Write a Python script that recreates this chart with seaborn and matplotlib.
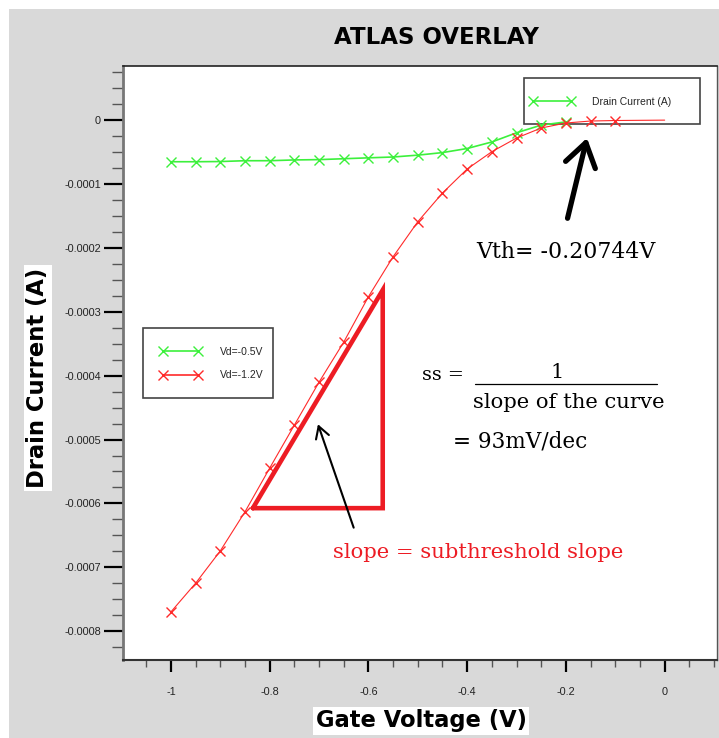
import numpy as np
import pandas as pd
import matplotlib
matplotlib.use("Agg")
import matplotlib.pyplot as plt
import seaborn as sns
from matplotlib.lines import Line2D
from matplotlib.patches import Rectangle
from matplotlib.ticker import MultipleLocator, FuncFormatter

# ---------------- data ----------------
gate_v_05 = [-1.00, -0.95, -0.90, -0.85, -0.80, -0.75, -0.70, -0.65, -0.60,
             -0.55, -0.50, -0.45, -0.40, -0.35, -0.30, -0.25, -0.20]
drain_05 = [-6.53e-5, -6.53e-5, -6.50e-5, -6.37e-5, -6.37e-5, -6.25e-5, -6.20e-5,
            -6.06e-5, -5.92e-5, -5.79e-5, -5.50e-5, -5.10e-5, -4.46e-5, -3.44e-5,
            -2.00e-5, -0.80e-5, -0.30e-5]

gate_v_12 = [-1.00, -0.95, -0.90, -0.85, -0.80, -0.75, -0.70, -0.65, -0.60,
             -0.55, -0.50, -0.45, -0.40, -0.35, -0.30, -0.25, -0.20, -0.15,
             -0.10, 0.00]
drain_12 = [-7.698e-4, -7.249e-4, -6.743e-4, -6.132e-4, -5.448e-4, -4.775e-4,
            -4.102e-4, -3.476e-4, -2.766e-4, -2.140e-4, -1.592e-4, -1.143e-4,
            -7.67e-5, -4.96e-5, -2.82e-5, -1.25e-5, -0.47e-5, -0.16e-5,
            -0.08e-5, -0.02e-5]

series_labels = ["Vd=-0.5V", "Vd=-1.2V"]
legend_top_label = "Drain Current (A)"

x_major_ticks = [-1.0, -0.8, -0.6, -0.4, -0.2, 0.0]
y_major_ticks = [0.0, -0.0001, -0.0002, -0.0003, -0.0004, -0.0005, -0.0006,
                 -0.0007, -0.0008]

# annotation geometry (data coordinates)
tri_x = [-0.834, -0.571, -0.571, -0.834]
tri_y = [-6.074e-4, -6.074e-4, -2.661e-4, -6.074e-4]
arrow_thin = ((-0.628, -6.42e-4), (-0.704, -4.72e-4))   # (tail, head)
arrow_thick = ((-0.198, -1.58e-4), (-0.156, -0.24e-4))

GREEN = "#3cf03c"
RED = "#ff2a2a"
ANN_RED = "#ed1c24"

# ---------------- figure ----------------
sns.set_theme(style="white")
plt.rcParams["font.family"] = ["Liberation Sans", "DejaVu Sans"]

W, H = 719, 738
fig = plt.figure(figsize=(W / 100, H / 100), dpi=100, facecolor="white")
bg = Rectangle((9 / W, 0), 1 - 9 / W, 1 - 9 / H, transform=fig.transFigure,
               facecolor="#d9d9d9", edgecolor="none", zorder=-10)
fig.add_artist(bg)

def fx(px):
    return px / W

def fy(py):
    return 1 - py / H

ax = fig.add_axes([fx(123), fy(660), fx(717) - fx(123), fy(66) - fy(660)])
ax.set_facecolor("white")

df05 = pd.DataFrame({"Vg": gate_v_05, "Id": drain_05})
df12 = pd.DataFrame({"Vg": gate_v_12, "Id": drain_12})

sns.lineplot(data=df05, x="Vg", y="Id", ax=ax, color=GREEN, lw=1.2,
             marker="x", markersize=7, markeredgewidth=1.0,
             markeredgecolor=GREEN, zorder=3, legend=False)
sns.lineplot(data=df12, x="Vg", y="Id", ax=ax, color=RED, lw=0.8,
             marker="x", markersize=7, markeredgewidth=1.0,
             markeredgecolor=RED, markevery=list(range(len(gate_v_12) - 1)),
             zorder=3, legend=False)

ax.set_xlim(-1.097, 0.106)
ax.set_ylim(-0.000845, 0.0000845)

ax.xaxis.set_major_locator(MultipleLocator(0.2))
ax.xaxis.set_minor_locator(MultipleLocator(0.05))
ax.yaxis.set_major_locator(MultipleLocator(0.0001))
ax.yaxis.set_minor_locator(MultipleLocator(0.000025))

def xfmt(v, pos):
    if abs(v) < 1e-9:
        return "0"
    if abs(v + 1) < 1e-9:
        return "-1"
    return f"{v:.1f}"

def yfmt(v, pos):
    if abs(v) < 1e-12:
        return "0"
    return f"{v:.4f}"

ax.xaxis.set_major_formatter(FuncFormatter(xfmt))
ax.yaxis.set_major_formatter(FuncFormatter(yfmt))

ax.tick_params(axis="x", which="major", direction="out", length=8.5, width=1.6,
               color="black", labelsize=7.8, pad=11, bottom=True)
ax.tick_params(axis="x", which="minor", direction="out", length=5, width=1.0,
               color="#555555", bottom=True)
ax.tick_params(axis="y", which="major", direction="out", length=14, width=1.6,
               color="black", labelsize=7.8, pad=2, left=True)
ax.tick_params(axis="y", which="minor", direction="out", length=8, width=1.0,
               color="#555555", left=True)
for lab in ax.get_xticklabels() + ax.get_yticklabels():
    lab.set_color("#222222")

ax.set_xlabel("")
ax.set_ylabel("")
for side, (c, w) in {"left": ("#777777", 2.0), "bottom": ("#333333", 1.5),
                     "top": ("#222222", 1.2), "right": ("#555555", 1.0)}.items():
    ax.spines[side].set_color(c)
    ax.spines[side].set_linewidth(w)
    ax.spines[side].set_visible(True)

# ---------------- legends ----------------
def ax_frac(px, py):
    return ((px - 123) / (717 - 123), (660 - py) / (660 - 66))

# top-right legend box
x0, y1 = ax_frac(524, 78)
x1, y0 = ax_frac(700, 124)
ax.add_patch(Rectangle((x0, y0), x1 - x0, y1 - y0, transform=ax.transAxes,
                       facecolor="white", edgecolor="#444444", lw=1.2, zorder=2.5))
h_top = [Line2D([], [], color=GREEN, lw=1.2, marker="x", markersize=7,
                markeredgewidth=1.0)]
hx, hy = ax_frac(530, 102)
leg1 = ax.legend(h_top, [legend_top_label], loc="center left",
                 bbox_to_anchor=(hx, hy), frameon=False, fontsize=7.5,
                 numpoints=2, handlelength=4.2, handletextpad=1.8,
                 borderpad=0, borderaxespad=0)
leg1.set_zorder(2.6)
ax.add_artist(leg1)

# Vd legend box
x0, y1 = ax_frac(143, 328)
x1, y0 = ax_frac(273, 398)
ax.add_patch(Rectangle((x0, y0), x1 - x0, y1 - y0, transform=ax.transAxes,
                       facecolor="white", edgecolor="#444444", lw=1.2, zorder=2.5))
h_vd = [Line2D([], [], color=GREEN, lw=1.2, marker="x", markersize=7, markeredgewidth=1.0),
        Line2D([], [], color=RED, lw=1.2, marker="x", markersize=7, markeredgewidth=1.0)]
hx, hy = ax_frac(160, 363.5)
leg2 = ax.legend(h_vd, series_labels, loc="center left",
                 bbox_to_anchor=(hx, hy), frameon=False, fontsize=7.5,
                 numpoints=2, handlelength=3.9, handletextpad=1.9,
                 labelspacing=1.3, borderpad=0, borderaxespad=0)
leg2.set_zorder(2.6)

# ---------------- annotations ----------------
ax.plot(tri_x, tri_y, color=ANN_RED, lw=3.3, solid_joinstyle="miter", zorder=4)
ax.annotate("", xy=arrow_thin[1], xytext=arrow_thin[0],
            arrowprops=dict(arrowstyle="->,head_length=0.6,head_width=0.35",
                            color="black", lw=1.5, mutation_scale=14), zorder=5)
ax.annotate("", xy=arrow_thick[1], xytext=arrow_thick[0],
            arrowprops=dict(arrowstyle="->,head_length=0.75,head_width=0.5",
                            color="black", lw=3.8, mutation_scale=22), zorder=5)

serif = ["DejaVu Serif"]
fig.text(fx(476), fy(252), "Vth= -0.20744V", family=serif, fontsize=15.8,
         ha="left", va="center", color="black")
fig.text(fx(422), fy(375), "ss =", family=serif, fontsize=13.8,
         ha="left", va="center", color="black")
fig.text(fx(557), fy(372), "1", family=serif, fontsize=15,
         ha="center", va="center", color="black")
fig.add_artist(Line2D([fx(475), fx(657)], [fy(384), fy(384)],
                      transform=fig.transFigure, color="black", lw=0.9))
fig.text(fx(473), fy(402), "slope of the curve", family=serif, fontsize=15.2,
         ha="left", va="center", color="black")
fig.text(fx(453), fy(442), "= 93mV/dec", family=serif, fontsize=15.5,
         ha="left", va="center", color="black")
fig.text(fx(333), fy(552), "slope = subthreshold slope", family=serif,
         fontsize=15.2, ha="left", va="center", color=ANN_RED)

# ---------------- titles ----------------
heavy = ["DejaVu Sans"]
fig.text(fx(436), fy(38), "ATLAS OVERLAY", family=heavy, fontsize=16.5,
         fontweight="bold", ha="center", va="center", color="black")
fig.text(fx(421), fy(721), "Gate Voltage (V)", family=heavy, fontsize=16.3,
         fontweight="bold", ha="center", va="center", color="black",
         bbox=dict(facecolor="white", edgecolor="none", pad=2))
fig.text(fx(38), fy(378), "Drain Current (A)", family=heavy, fontsize=16.3,
         fontweight="bold", ha="center", va="center", rotation=90,
         color="black", bbox=dict(facecolor="white", edgecolor="none", pad=2))

fig.savefig("out.png", dpi=100, facecolor="white")
